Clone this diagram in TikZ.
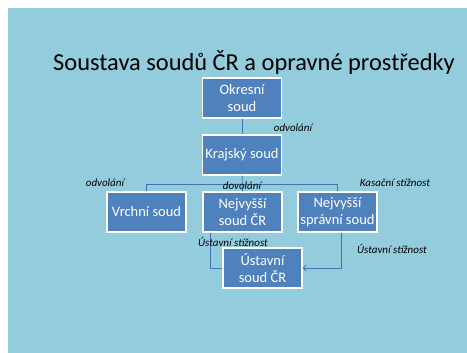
\documentclass[tikz,border=0pt]{standalone}
\usepackage{fontspec}
\setmainfont{Carlito}
\usepackage{tikz}
\usetikzlibrary{positioning,calc,arrows.meta}
\definecolor{slidebg}{RGB}{147,205,221}
\definecolor{boxfill}{RGB}{79,129,189}
\definecolor{linkcol}{RGB}{66,116,180}

\begin{document}
\begin{tikzpicture}[x=1pt,y=-1pt,
    court/.style={draw=white, line width=1.2pt, fill=boxfill, text=white, minimum width=79pt, minimum height=40pt, align=center, font=\fontsize{14.5}{17}\selectfont, inner sep=1pt},
    link/.style={draw=linkcol, line width=0.9pt},
    remedy/.style={font=\fontsize{11}{12}\selectfont\itshape}]
    % Slide
    \fill[white] (0,0) rectangle (467,353);
    \fill[slidebg] (8,8) rectangle (467,353);
    \useasboundingbox (0,0) rectangle (467,353);
    \node (title) at (254,62) {\fontsize{24.4}{28}\selectfont Soustava soudů ČR a opravné prostředky};

    % Courts
    \node[court] (okresni) at (242,98) {Okresní\\soud};
    \node[court] (krajsky) at (242,155) {Krajský soud};
    \node[court] (vrchni) at (146.5,212) {Vrchní soud};
    \node[court] (nejvyssi) at (242.5,212) {Nejvyšší\\soud ČR};
    \node[court] (nss) at (337.5,212) {Nejvyšší\\správní soud};
    \node[court] (ustavni) at (262.5,268) {Ústavní\\soud ČR};

    % Connectors
    \coordinate (bus) at (0,184);
    \draw[link] (okresni) -- (krajsky);
    \draw[link] (krajsky) -- (nejvyssi);
    \draw[link] (vrchni.north) -- (vrchni.north |- bus) -| (nss.north);
    \draw[link] ([xshift=8pt]nejvyssi.south west) |- (ustavni.west);
    \draw[link,-{Straight Barb[length=3pt,width=6pt]}] ([xshift=4pt]nss.south) |- (ustavni.east);

    % Remedies
    \node[remedy] (odv1) at (293,128) {odvolání};
    \node[remedy] (odv2) at (105,183) {odvolání};
    \node[remedy] (dov) at (242,186) {dovolání};
    \node[remedy] (kas) at (395,183) {Kasační stížnost};
    \node[remedy] (ust1) at (233,242) {Ústavní stížnost};
    \node[remedy] (ust2) at (392,249) {Ústavní stížnost};
\end{tikzpicture}
\end{document}
